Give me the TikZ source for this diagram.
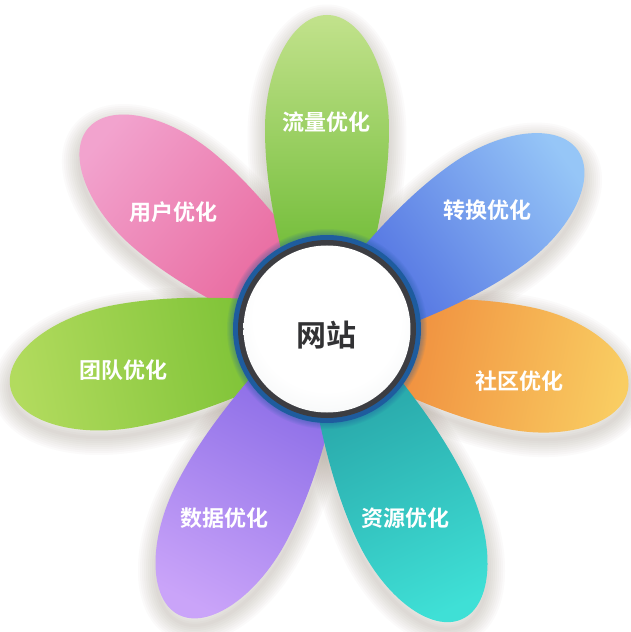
\documentclass[tikz,border=0pt]{standalone}
\usepackage{fontspec}
\newfontfamily\cjk{Noto Sans CJK SC}[BoldFont={Noto Sans CJK SC Bold}]
\newcommand\petalpth{(40,-36) .. controls (100,-52) and (150,-62) .. (200,-62) .. controls (262,-62) and (314,-34) .. (314,0) .. controls (314,34) and (262,62) .. (200,62) .. controls (150,62) and (100,52) .. (40,36) -- cycle}
\newcommand\petalshadow[2]{%
  \begin{scope}[shift={(0,-7)}, rotate=#1, xscale=#2/314]
    \foreach \w in {3,7,...,35} {\draw[shadowc, line width=\w pt, opacity=0.028, line join=round] \petalpth;}
  \end{scope}}
\newcommand\petal[4]{%
  \pgfmathsetmacro\shang{#1-90}%
  \begin{scope}[rotate=#1, xscale=#2/314]
    \shade[top color=#3, bottom color=#4, shading angle=\shang] \petalpth;
  \end{scope}}
\definecolor{centreedge}{HTML}{BFC7CC}
\definecolor{centremid}{HTML}{EEF1F2}
\pgfdeclareradialshading{centreshade}{\pgfpoint{0bp}{6bp}}{%
  color(0bp)=(white); color(22bp)=(white); color(36bp)=(centremid); color(46bp)=(centreedge); color(50bp)=(centreedge)}
\begin{document}
\begin{tikzpicture}[x=1pt,y=1pt]
\definecolor{shadowc}{RGB}{120,100,80}
\definecolor{gtipA}{HTML}{C2E28C}\definecolor{gbaseA}{HTML}{68B82E}
\definecolor{btip}{HTML}{96C6F7}\definecolor{bbase}{HTML}{4E6DE0}
\definecolor{otip}{HTML}{F9CD62}\definecolor{obase}{HTML}{EF873A}
\definecolor{ttip}{HTML}{3FE0D6}\definecolor{tbase}{HTML}{27A3A6}
\definecolor{ptip}{HTML}{CAA4F9}\definecolor{pbase}{HTML}{886AE6}
\definecolor{gtipB}{HTML}{B2DB5E}\definecolor{gbaseB}{HTML}{78C032}
\definecolor{ktip}{HTML}{F2A3CE}\definecolor{kbase}{HTML}{E8659B}
\definecolor{ringblue}{HTML}{1E5C9E}
\definecolor{ringgray}{HTML}{3C3D42}
\tikzset{
  petallabel/.style={font=\cjk\bfseries\fontsize{22}{22}\selectfont, text=white, inner sep=0pt},
  centrelabel/.style={font=\cjk\bfseries\fontsize{30}{30}\selectfont, text={rgb,255:red,50;green,50;blue,52}, inner sep=0pt},
}
\useasboundingbox (-327,-303) rectangle (304,329);
\fill[white] (-327,-303) rectangle (304,329);
% shadows
\petalshadow{90}{314}
\petalshadow{35.5}{308}
\petalshadow{-11.5}{307}
\petalshadow{-65}{320}
\petalshadow{-117.5}{322}
\petalshadow{190.4}{322}
\petalshadow{140}{312}
% petals
\petal{-11.5}{307}{otip}{obase}
\petal{140}{312}{ktip}{kbase}
\petal{90}{314}{gtipA}{gbaseA}
\petal{35.5}{308}{btip}{bbase}
\petal{190.4}{322}{gtipB}{gbaseB}
\petal{-117.5}{322}{ptip}{pbase}
\petal{-65}{320}{ttip}{tbase}
% centre
\foreach \w in {2,4,...,12} {\draw[ringblue, line width=\w pt, opacity=0.07] (0,0) circle (94);}
\fill[ringblue] (0,0) circle (94);
\fill[ringgray] (0,0) circle (89);
\shade[shading=centreshade] (0,0) circle (83.5);
\node[centrelabel] (hub) at (0,-6) {网站};
% labels
\node[petallabel] (l1) at (0,207) {流量优化};
\node[petallabel] (l2) at (160,119) {转换优化};
\node[petallabel] (l3) at (192,-52) {社区优化};
\node[petallabel] (l4) at (79,-189) {资源优化};
\node[petallabel] (l5) at (-102,-189) {数据优化};
\node[petallabel] (l6) at (-203,-41) {团队优化};
\node[petallabel] (l7) at (-153,117) {用户优化};
\end{tikzpicture}
\end{document}
